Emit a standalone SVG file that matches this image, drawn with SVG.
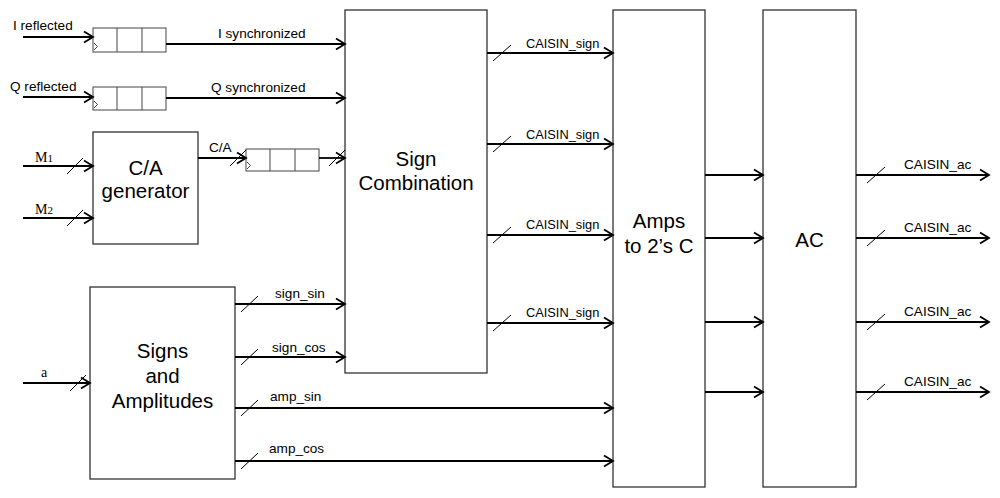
<svg xmlns="http://www.w3.org/2000/svg" width="1000" height="498" viewBox="0 0 1000 498">
<style>
.box{fill:#fff;stroke:#333;stroke-width:1.3}
.reg{fill:#fff;stroke:#444;stroke-width:1}
.w{stroke:#000;stroke-width:1.8;fill:none}
.ar{marker-end:url(#arr)}
.sl{stroke:#000;stroke-width:1;fill:none}
.t{font-family:"Liberation Sans",Arial,sans-serif;font-size:13.6px;fill:#000}
.cs{font-size:12.8px}
.big{font-family:"Liberation Sans",Arial,sans-serif;font-size:20.5px;fill:#000;text-anchor:middle}
.s{font-family:"Liberation Serif","Times New Roman",serif;font-size:14px;fill:#000}
</style>
<defs>
<marker id="arr" markerUnits="userSpaceOnUse" markerWidth="14" markerHeight="14" refX="10" refY="6" orient="auto" overflow="visible">
<path d="M1,0.5 L10,6 L1,11.5" fill="none" stroke="#000" stroke-width="1.8"/>
</marker>
</defs>
<rect width="1000" height="498" fill="#fff"/>

<g id="regI">
<rect class="reg" x="93" y="28" width="73" height="24"/>
<path class="reg" d="M117,28V52M142,28V52M94,43L97.5,46.5L94,50"/>
</g>
<g id="regQ">
<rect class="reg" x="93" y="87" width="73" height="23"/>
<path class="reg" d="M117,87V110M142,87V110M94,101L97.5,104.5L94,108"/>
</g>
<g id="regCA">
<rect class="reg" x="246" y="149" width="73" height="22"/>
<path class="reg" d="M270,149V171M295,149V171M247,162L250.5,165.5L247,169"/>
</g>
<g id="caGen">
<rect class="box" x="93" y="132" width="105" height="112"/>
<text class="big" x="145.5" y="175">C/A</text>
<text class="big" x="145.5" y="198">generator</text>
</g>
<g id="signComb">
<rect class="box" x="345" y="10" width="142" height="363"/>
<text class="big" x="416" y="166">Sign</text>
<text class="big" x="416" y="190">Combination</text>
</g>
<g id="amps">
<rect class="box" x="613" y="10" width="92" height="477"/>
<text class="big" x="659" y="228">Amps</text>
<text class="big" x="659" y="253">to 2’s C</text>
</g>
<g id="ac">
<rect class="box" x="763" y="10" width="93" height="477"/>
<text class="big" x="809.5" y="247">AC</text>
</g>
<g id="signsAmp">
<rect class="box" x="90" y="287" width="145" height="192"/>
<text class="big" x="162.5" y="358">Signs</text>
<text class="big" x="162.5" y="383">and</text>
<text class="big" x="162.5" y="408">Amplitudes</text>
</g>

<g id="connectors">
<path class="w ar" d="M23,37H93"/>
<path class="w ar" d="M166,44H345"/>
<path class="w ar" d="M23,97H93"/>
<path class="w ar" d="M166,98H345"/>
<path class="w ar" d="M23,166H93"/>
<path class="w ar" d="M23,218H93"/>
<path class="w ar" d="M198,158H246"/>
<path class="w ar" d="M319,158H345"/>
<path class="w ar" d="M23,383H90"/>
<path class="w ar" d="M235,304H345"/>
<path class="w ar" d="M235,357H345"/>
<path class="w ar" d="M235,408H613"/>
<path class="w ar" d="M235,461H613"/>
<path class="w ar" d="M487,53H613"/>
<path class="w ar" d="M487,144H613"/>
<path class="w ar" d="M487,235H613"/>
<path class="w ar" d="M487,323H613"/>
<path class="w ar" d="M705,175H763"/>
<path class="w ar" d="M705,238H763"/>
<path class="w ar" d="M705,322H763"/>
<path class="w ar" d="M705,392H763"/>
<path class="w ar" d="M856,175H989"/>
<path class="w ar" d="M856,238H989"/>
<path class="w ar" d="M856,322H989"/>
<path class="w ar" d="M856,392H989"/>
<path class="sl" d="M67,174L83,158M67,226L83,210M70,391L86,375M230,166L246,150M329,166L345,150M241,312L258,296M241,365L258,349M241,416L258,400M241,469L258,453M493,61L511,45M493,152L511,136M493,243L511,227M493,331L511,315M867,183L885,167M867,246L885,230M867,330L885,314M867,400L885,384"/>
<text class="t" x="13" y="30">I reflected</text>
<text class="t" x="10" y="91">Q reflected</text>
<text class="t" x="218" y="38">I synchronized</text>
<text class="t" x="211" y="92">Q synchronized</text>
<text class="t" x="209" y="152">C/A</text>
<text class="s" x="35" y="162">M<tspan font-size="11">1</tspan></text>
<text class="s" x="35" y="214">M<tspan font-size="11">2</tspan></text>
<text class="s" x="41" y="377">a</text>
<text class="t" x="275" y="298">sign_sin</text>
<text class="t" x="272" y="352">sign_cos</text>
<text class="t" x="270" y="401">amp_sin</text>
<text class="t" x="269" y="453">amp_cos</text>
<text class="t cs" x="526" y="48">CAISIN_sign</text>
<text class="t cs" x="526" y="139">CAISIN_sign</text>
<text class="t cs" x="526" y="229">CAISIN_sign</text>
<text class="t cs" x="526" y="317">CAISIN_sign</text>
<text class="t" x="904" y="169">CAISIN_ac</text>
<text class="t" x="904" y="232">CAISIN_ac</text>
<text class="t" x="904" y="316">CAISIN_ac</text>
<text class="t" x="904" y="386">CAISIN_ac</text>
</g>
</svg>
